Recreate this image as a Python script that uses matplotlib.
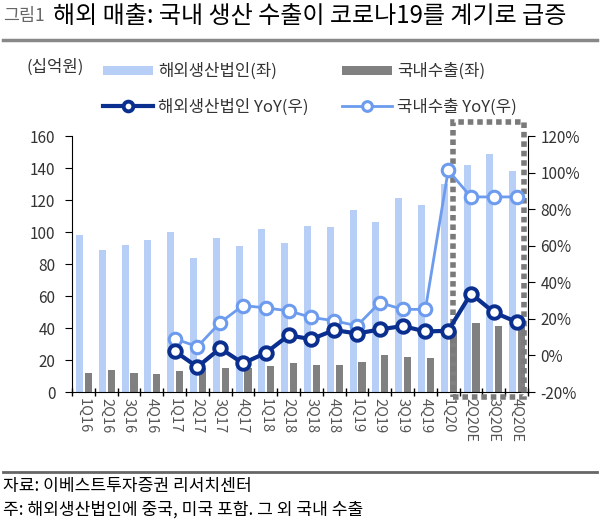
import matplotlib.pyplot as plt
import numpy as np
from matplotlib.patches import Rectangle
from matplotlib.lines import Line2D

plt.rcParams['font.family'] = ['Liberation Sans Narrow', 'Noto Sans CJK KR', 'DejaVu Sans']

quarters = ['1Q16', '2Q16', '3Q16', '4Q16', '1Q17', '2Q17', '3Q17', '4Q17',
            '1Q18', '2Q18', '3Q18', '4Q18', '1Q19', '2Q19', '3Q19', '4Q19',
            '1Q20', '2Q20E', '3Q20E', '4Q20E']
overseas = [98, 89, 92, 95, 100, 84, 96, 91, 102, 93, 104, 103,
            114, 106, 121, 117, 130, 142, 149, 138]
domestic = [12, 14, 12, 11, 13, 15, 15, 15, 16, 18, 17, 17,
            19, 23, 22, 21, 38, 43, 41, 44]
# YoY (%), starts at 1Q17
overseas_yoy = [None] * 4 + [2.4, -6.3, 3.9, -4.3, 1.4, 11.0, 8.9, 13.9,
                             12.0, 14.2, 16.1, 13.1, 13.5, 33.8, 23.6, 18.3]
domestic_yoy = [None] * 4 + [9.2, 4.8, 18.0, 27.3, 26.0, 24.4, 20.8, 19.0,
                             16.2, 28.9, 25.2, 25.2, 101.2, 86.7, 86.7, 86.7]

light_bar = '#B7CEF7'
gray_bar = '#808080'
navy = '#0B2F8F'
sky = '#6D9BEE'
txt = '#333333'

fig = plt.figure(figsize=(6, 5.22), dpi=100)
ax = fig.add_axes([0.12, 0.249, 0.76, 0.4904])
ax2 = ax.twinx()

x = np.arange(len(quarters))
w = 0.31
b1 = ax.bar(x - 0.17, overseas, w, color=light_bar, zorder=1)
b2 = ax.bar(x + 0.22, domestic, w, color=gray_bar, zorder=1)

oy = np.array([np.nan if v is None else v for v in overseas_yoy])
dy = np.array([np.nan if v is None else v for v in domestic_yoy])
l2, = ax2.plot(x, dy, color=sky, lw=2, marker='o', ms=9, mfc='white',
               mec=sky, mew=2.2, zorder=3)
l1, = ax2.plot(x, oy, color=navy, lw=3, marker='o', ms=9, mfc='white',
               mec=navy, mew=2.8, zorder=4)

ax.set_xlim(-0.5, len(quarters) - 0.5)
ax.set_ylim(0, 160)
ax.set_yticks(range(0, 161, 20))
ax2.set_ylim(-20, 120)
ax2.set_yticks(range(-20, 121, 20))
ax2.set_yticklabels([f'{v}%' for v in range(-20, 121, 20)])

ax.set_xticks(x)
ax.set_xticklabels(quarters, rotation=270, color='#555555', fontsize=10.5)
ax.set_xticks(np.arange(-0.5, len(quarters), 1), minor=True)
ax.tick_params(axis='x', which='major', length=0, pad=4)
ax.tick_params(axis='x', which='minor', length=6, direction='inout', width=1)
ax.tick_params(axis='y', length=5, direction='out', labelsize=11, pad=7, labelcolor=txt)
ax2.tick_params(axis='y', length=5, direction='out', labelsize=11, pad=4, labelcolor=txt)

for a in (ax, ax2):
    a.spines['top'].set_visible(False)
ax.spines['right'].set_visible(False)
ax2.spines['left'].set_visible(False)
ax2.spines['bottom'].set_visible(False)

# dotted highlight box for the 2020 outlook
box = Rectangle((16.2, -3), 3.12, 172, fill=False, ec='#7A7A7A', lw=4,
                linestyle=(0, (1, 0.7)), clip_on=False, zorder=5)
ax.add_patch(box)

leg_kw = dict(frameon=False, loc='upper left', fontsize=12, handlelength=3.0,
              handletextpad=0.3, labelspacing=1.1, borderpad=0, borderaxespad=0,
              handleheight=0.5, labelcolor=txt)
leg1 = fig.legend([b1, l1], ['해외생산법인(좌)', '해외생산법인 YoY(우)'],
                  bbox_to_anchor=(103 / 600, 1 - 63 / 522), **leg_kw)
leg2 = fig.legend([b2, l2], ['국내수출(좌)', '국내수출 YoY(우)'],
                  bbox_to_anchor=(342 / 600, 1 - 63 / 522), **leg_kw)
for leg in (leg1, leg2):
    for h in leg.legend_handles:
        if isinstance(h, Line2D):
            h.set_markersize(7)

fig.text(27 / 600, 1 - 67 / 522, '(십억원)', fontsize=12, color=txt, ha='left', va='center')

# title
fig.text(0.005, 1 - 16 / 522, '그림1', fontsize=12.5, color='#666666', ha='left', va='center')
fig.text(53 / 600, 1 - 16 / 522, '해외 매출: 국내 생산 수출이 코로나19를 계기로 급증', fontsize=17.3,
         color='black', ha='left', va='center')
fig.add_artist(Line2D([0.005, 0.995], [1 - 40 / 522] * 2, color='#888888', lw=2.5))
fig.add_artist(Line2D([0.005, 0.995], [1 - 472 / 522] * 2, color='#666666', lw=2))

fig.text(0.005, 1 - 486 / 522, '자료: 이베스트투자증권 리서치센터', fontsize=12.3, color='black', va='center')
fig.text(0.005, 1 - 510 / 522, '주: 해외생산법인에 중국, 미국 포함. 그 외 국내 수출', fontsize=12.3,
         color='black', va='center')

fig.savefig('out.png', dpi=100)
